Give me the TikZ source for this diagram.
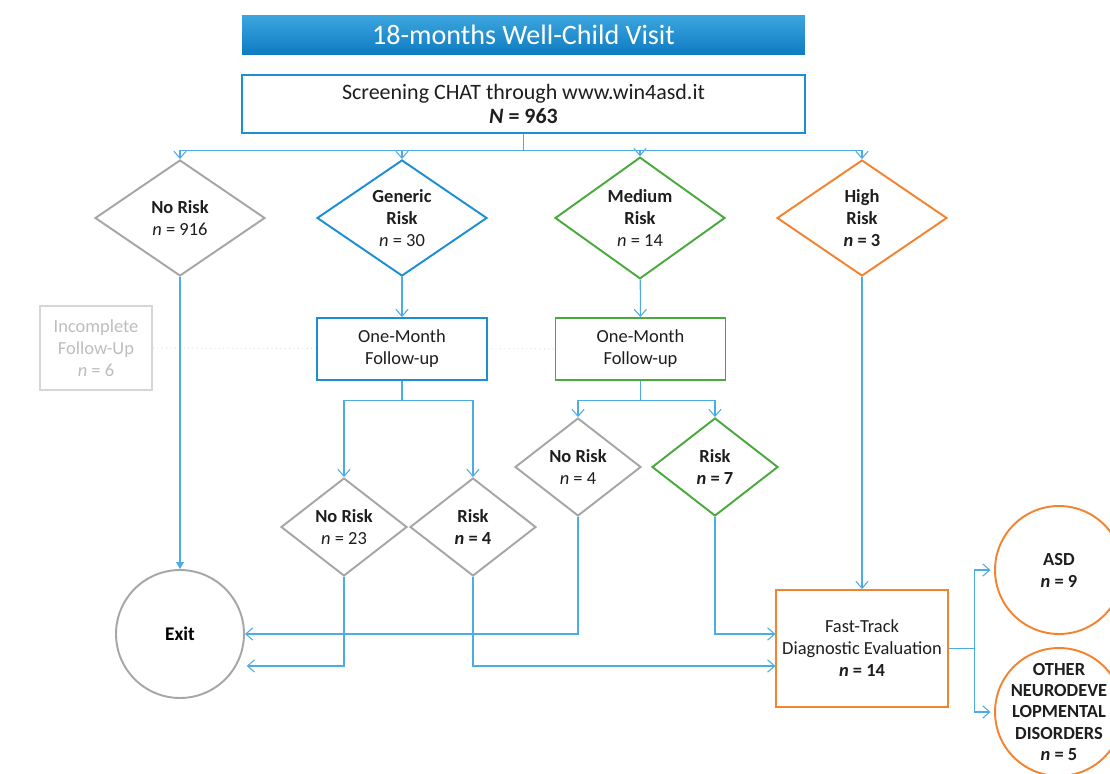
\documentclass[tikz,border=0pt]{standalone}
\usepackage{fontspec}
\setmainfont{Carlito}
\usetikzlibrary{arrows.meta,shapes.geometric,backgrounds}
\definecolor{wcInk}{HTML}{1E1E1E}
\definecolor{wcLine}{HTML}{4BACE6}
\definecolor{wcBlue}{HTML}{1A8FD4}
\definecolor{wcGreen}{HTML}{4AA93C}
\definecolor{wcOrange}{HTML}{F4832F}
\definecolor{wcGrey}{HTML}{A6A6A6}
\definecolor{wcPale}{HTML}{D6D6D6}
\definecolor{wcPaleTxt}{HTML}{BDBDBD}
\definecolor{wcTop}{HTML}{3DA6E0}
\definecolor{wcBot}{HTML}{0C7BC0}
\newcommand{\nval}[1]{\textit{n} = #1}
\newcommand{\nbold}[1]{\textbf{\textit{n} = #1}}
\tikzset{
  txt/.style={font=\fontsize{10.5}{12.5}\selectfont,text=wcInk,align=center},
  flow/.style={draw=wcLine,line width=0.6pt},
  arr/.style={flow,-{Straight Barb[length=4pt,width=7pt]}},
  arrf/.style={flow,-{Triangle[length=4pt,width=4.5pt]}},
  risk/.style={txt,diamond,draw,fill=white,line width=1.1pt,inner sep=0pt},
  bigd/.style={risk,minimum width=3.4cm,minimum height=2.32cm},
  smalld/.style={risk,minimum width=2.52cm,minimum height=1.96cm},
  fubox/.style={txt,draw,fill=white,line width=1.1pt,minimum width=3.4cm,minimum height=1.24cm},
  outc/.style={circle,draw,fill=white,line width=1.1pt,minimum size=2.56cm,inner sep=0pt},
  dotln/.style={draw=wcPale,line width=0.5pt,dotted},
}
\begin{document}
\begin{tikzpicture}[x=0.02cm,y=-0.02cm]
    \useasboundingbox (0,0) rectangle (1110,774);
    % --- header
    \node[minimum width=11.26cm,minimum height=0.8cm,top color=wcTop,bottom color=wcBot,
          text=white,font=\fontsize{16}{19}\selectfont] at (523.5,35) (title) {18-months Well-Child Visit};
    \node[txt,draw=wcBlue,line width=1.1pt,minimum width=11.26cm,minimum height=1.16cm,
          font=\fontsize{12.5}{13.6}\selectfont] at (523.5,104) (scr)
      {Screening CHAT through www.win4asd.it\\ \textbf{\textit{N} = 963}};
    % --- first risk level
    \node[bigd,draw=wcGrey]   at (180,218) (nr)  {\textbf{No Risk}\\ \nval{916}};
    \node[bigd,draw=wcBlue]   at (402,218) (gr)  {\textbf{Generic}\\ \textbf{Risk}\\ \nval{30}};
    \node[bigd,draw=wcGreen]  at (640,218) (mr)  {\textbf{Medium}\\ \textbf{Risk}\\ \nval{14}};
    \node[bigd,draw=wcOrange] at (862,218) (hr)  {\textbf{High}\\ \textbf{Risk}\\ \nbold{3}};
    % --- follow-up
    \node[txt,draw=wcPale,line width=1.1pt,text=wcPaleTxt,minimum width=2.24cm,minimum height=1.68cm]
      at (96,348) (inc) {Incomplete\\ Follow-Up\\ \nval{6}};
    \node[fubox,draw=wcBlue]  at (402,349) (fu1) {One-Month\\ Follow-up};
    \node[fubox,draw=wcGreen] at (640.5,349) (fu2) {One-Month\\ Follow-up};
    % --- second risk level
    \node[smalld,draw=wcGrey]  at (344,527) (nr23) {\textbf{No Risk}\\ \nval{23}};
    \node[smalld,draw=wcGrey]  at (473,527) (rk4)  {\textbf{Risk}\\ \nbold{4}};
    \node[smalld,draw=wcGrey]  at (578,467) (nr4)  {\textbf{No Risk}\\ \nval{4}};
    \node[smalld,draw=wcGreen] at (715,467) (rk7)  {\textbf{Risk}\\ \nbold{7}};
    % --- outcomes
    \node[outc,draw=wcGrey,font=\fontsize{11}{12.5}\selectfont\bfseries] at (180,634) (exit) {Exit};
    \node[fubox,draw=wcOrange,minimum width=3.36cm,minimum height=2.34cm] at (862,648.5) (ft)
      {Fast-Track\\ Diagnostic Evaluation\\ \nbold{14}};
    \node[outc,draw=wcOrange,label={[txt,font=\fontsize{10.5}{12.5}\selectfont\bfseries]center:ASD\\ \textit{n} = 9}]
      at (1059,570) (asd) {};
    \node[outc,draw=wcOrange,label={[txt,font=\fontsize{10.5}{12}\selectfont\bfseries]center:OTHER\\ NEURODEVE\\ LOPMENTAL\\ DISORDERS\\ \textit{n} = 5}]
      at (1059,712) (oth) {};

    \coordinate (lowrun) at (0,666);

    \draw[flow] (scr.south) -- ++(0,17) coordinate (hub);
    \draw[arr] (hub) -| (nr.north);
    \draw[arr] (hub) -| (gr.north);
    \draw[arr] (hub) -| (mr.north);
    \draw[arr] (hub) -| (hr.north);
    \draw[arrf] (nr) -- (exit);
    \draw[arr] (gr) -- (fu1);
    \draw[arr] (mr) -- (fu2);
    \draw[flow] (fu1.south) -- ++(0,20) coordinate (gsplit);
    \draw[arr] (gsplit) -| (nr23.north);
    \draw[arr] (gsplit) -| (rk4.north);
    \draw[flow] (fu2.south) -- ++(0,20) coordinate (msplit);
    \draw[arr] (msplit) -| (nr4.north);
    \draw[arr] (msplit) -| (rk7.north);
    \draw[arr] (nr23.south) |- ([xshift=1pt]exit.east |- lowrun);
    \draw[arr] (rk4.south) |- (ft.west |- lowrun);
    \draw[arr] (nr4.south) |- (exit.east);
    \draw[arr] (rk7.south) |- (ft.west |- exit.east);
    \draw[arr] (hr) -- (ft);
    \draw[flow] (ft.east) -- ++(26,0) coordinate (dsplit);
    \draw[arr] (dsplit) |- ([xshift=-2pt]asd.west);
    \draw[arr] (dsplit) |- ([xshift=-2pt]oth.west);
    \begin{scope}[on background layer]
      \draw[dotln] (inc) -- (fu2);
    \end{scope}
  \end{tikzpicture}
\end{document}
